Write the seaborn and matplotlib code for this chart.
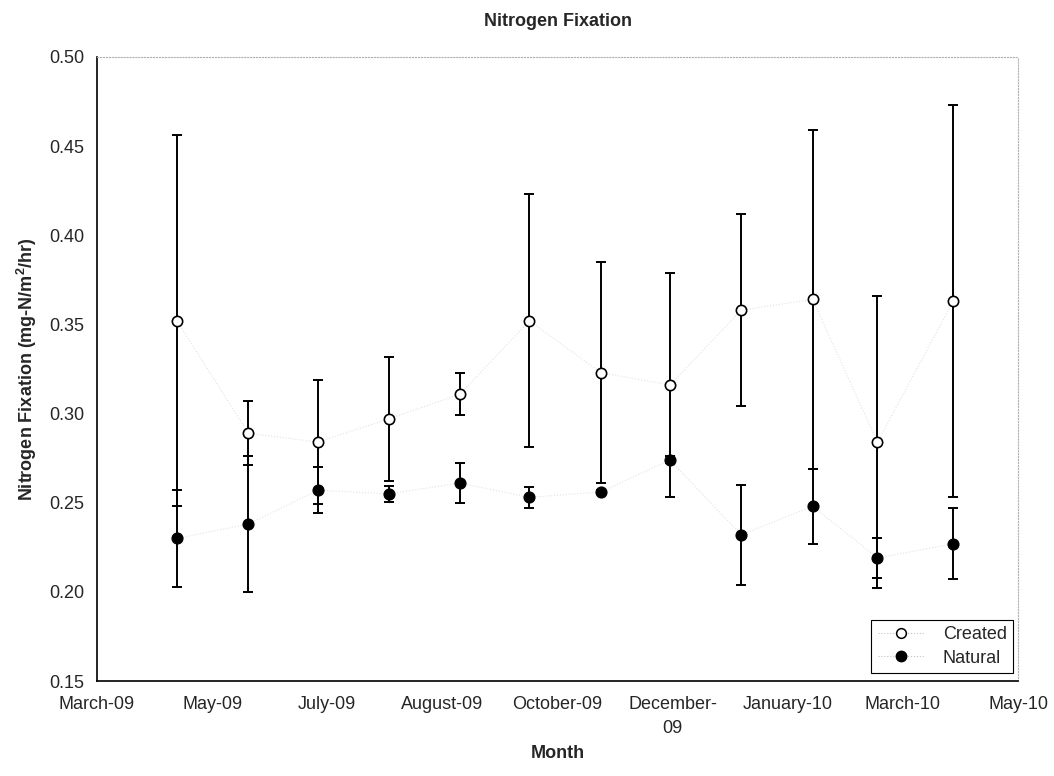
import numpy as np
import pandas as pd
import matplotlib
matplotlib.use("Agg")
import matplotlib.pyplot as plt
import matplotlib.dates as mdates
from matplotlib.lines import Line2D
import seaborn as sns

# ---- data ----
dates = ['2009-04-07', '2009-05-10', '2009-06-11', '2009-07-14', '2009-08-16', '2009-09-17',
         '2009-10-20', '2009-11-21', '2009-12-24', '2010-01-26', '2010-02-25', '2010-04-01']
created = [0.352, 0.289, 0.284, 0.297, 0.311, 0.352, 0.323, 0.316, 0.358, 0.364, 0.284, 0.363]
created_err = [0.104, 0.018, 0.035, 0.035, 0.012, 0.071, 0.062, 0.063, 0.054, 0.095, 0.082, 0.110]
natural = [0.230, 0.238, 0.257, 0.255, 0.261, 0.253, 0.256, 0.274, 0.232, 0.248, 0.219, 0.227]
natural_err = [0.027, 0.038, 0.013, 0.0045, 0.011, 0.006, 0.001, 0.002, 0.028, 0.021, 0.011, 0.020]
tick_labels = ['March-09', 'May-09', 'July-09', 'August-09', 'October-09', 'December-\n09',
               'January-10', 'March-10', 'May-10']
x_start, x_end = '2009-03-01', '2010-05-01'

df = pd.DataFrame({
    'date': pd.to_datetime(dates + dates),
    'value': created + natural,
    'err': created_err + natural_err,
    'series': ['Created'] * len(dates) + ['Natural'] * len(dates),
})

sns.set_theme(style="white")
plt.rcParams['font.family'] = ['Liberation Sans', 'DejaVu Sans']
plt.rcParams['mathtext.fontset'] = 'custom'
plt.rcParams['mathtext.rm'] = 'Liberation Sans'
plt.rcParams['mathtext.bf'] = 'Liberation Sans:bold'

FS = 13

fig = plt.figure(figsize=(10.54, 7.76), dpi=100)
ax = fig.add_axes([97 / 1054, 1 - 681 / 776, (1018 - 97) / 1054, (681 - 57) / 776])

# faint dotted connecting lines
for name in ['Created', 'Natural']:
    sub = df[df.series == name]
    sns.lineplot(data=sub, x='date', y='value', ax=ax, color='#e2e2e2', lw=0.8,
                 linestyle=':', legend=False, zorder=1)

# error bars
for name in ['Created', 'Natural']:
    sub = df[df.series == name]
    ax.errorbar(sub['date'], sub['value'], yerr=sub['err'], fmt='none',
                ecolor='black', elinewidth=1.4, capsize=3.7, capthick=1.4, zorder=2)

# markers
sub = df[df.series == 'Created']
sns.scatterplot(data=sub, x='date', y='value', ax=ax, marker='o', s=55,
                facecolor='white', edgecolor='black', linewidth=1.2, zorder=4, legend=False)
sub = df[df.series == 'Natural']
sns.scatterplot(data=sub, x='date', y='value', ax=ax, marker='o', s=60,
                color='black', edgecolor='black', linewidth=1.0, zorder=4, legend=False)

# axes
x0 = mdates.date2num(pd.Timestamp(x_start))
x1 = mdates.date2num(pd.Timestamp(x_end))
ax.set_xlim(x0, x1)
ax.set_xticks(np.linspace(x0, x1, len(tick_labels)))
ax.set_xticklabels(tick_labels, fontsize=FS, va='top', linespacing=1.55)
ax.set_ylim(0.15, 0.50)
ax.set_yticks(np.arange(0.15, 0.501, 0.05))
ax.set_yticklabels([f'{v:.2f}' for v in np.arange(0.15, 0.501, 0.05)], fontsize=FS)
ax.tick_params(axis='both', direction='out', length=5, width=1, color='black')
ax.tick_params(axis='x', pad=6)
ax.tick_params(axis='y', pad=4)

for s in ['left', 'bottom']:
    ax.spines[s].set_color('black')
    ax.spines[s].set_linewidth(1.2)
for s in ['top', 'right']:
    ax.spines[s].set_color('#b0b0b0')
    ax.spines[s].set_linewidth(0.8)
    ax.spines[s].set_linestyle(':')

ax.set_xlabel('Month', fontsize=FS, fontweight='bold')
ax.xaxis.set_label_coords(0.5, -(745 - 681) / 624)
ax.set_ylabel(r'Nitrogen Fixation (mg-N/m$^{\mathbf{2}}$/hr)', fontsize=FS,
              fontweight='bold')
ax.yaxis.set_label_coords(-(97 - 39) / 921, 0.5)
ax.set_title('Nitrogen Fixation', fontsize=FS, fontweight='bold', pad=22)

handles = [
    Line2D([0], [0], color='#c0c0c0', lw=0.8, linestyle=':', marker='o', markersize=7,
           markerfacecolor='white', markeredgecolor='black', markeredgewidth=1.1),
    Line2D([0], [0], color='#c0c0c0', lw=0.8, linestyle=':', marker='o', markersize=7.5,
           markerfacecolor='black', markeredgecolor='black'),
]
leg = ax.legend(handles, ['Created', 'Natural'], loc='lower right', fontsize=FS,
                frameon=True, fancybox=False, edgecolor='black', framealpha=1,
                borderaxespad=0.0, handlelength=2.6, handletextpad=1.0, labelspacing=0.35,
                borderpad=0.35, bbox_to_anchor=((1013 - 97) / 921, (681 - 673) / 624))
leg.get_frame().set_linewidth(0.8)

fig.savefig('out.png', dpi=100, facecolor='white')
